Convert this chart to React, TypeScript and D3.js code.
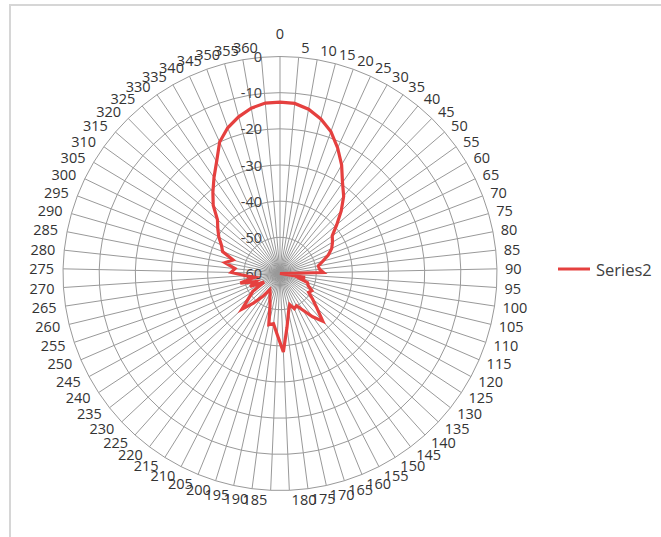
import React from "react";
import * as d3 from "d3";

const categories = [0,5,10,15,20,25,30,35,40,45,50,55,60,65,70,75,80,85,90,95,100,105,110,115,120,125,130,135,140,145,150,155,160,165,170,175,180,185,190,195,200,205,210,215,220,225,230,235,240,245,250,255,260,265,270,275,280,285,290,295,300,305,310,315,320,325,330,335,340,345,350,355,360];

const series2 = [
  -12.6, -12.8, -13.9, -15.8, -18.3, -21.8, -25.5, -29.5, -32.3, -35.8,
  -39.3, -42.2, -43.1, -44.1, -45.7, -47.7, -49.2, -49.0, -48.0, -62,
  -53, -54.5, -52, -51.5, -50, -50.5, -48.5, -46, -42.3, -45,
  -48, -50, -49.5, -51, -49, -45, -38.3, -43, -46, -45.5,
  -50.7, -52.6, -54, -54.7, -52, -49, -45.6, -49, -51, -55,
  -51, -53, -48.7, -53, -50.5, -46.5, -47.5, -44.5, -46.5, -43,
  -42, -40.3, -38.8, -37.2, -33.6, -30.8, -27.8, -24.5, -20.0, -17.2,
  -15.2, -13.6, -12.7
];

const valueTicks = [0, -10, -20, -30, -40, -50, -60];
const seriesName = "Series2";

const W = 661, H = 537;
const cx = 280, cy = 273.5, R = 217;
const FONT = "'Open Sans', 'DejaVu Sans', sans-serif";
const RED = "#e5403f";
const GRID = "#999999";

export default function App() {
  const n = categories.length;
  const angle = d3.scaleLinear().domain([0, n]).range([0, 2 * Math.PI]);
  const r = d3.scaleLinear().domain([-60, 0]).range([0, R]).clamp(true);

  const ringPath = (v: number) => {
    const pts = d3.range(n).map((i) => {
      const a = angle(i);
      return [cx + r(v) * Math.sin(a), cy - r(v) * Math.cos(a)];
    });
    return "M" + pts.map((p) => p.join(",")).join("L") + "Z";
  };

  const line = d3
    .lineRadial<number>()
    .angle((_, i) => angle(i))
    .radius((d) => r(d))
    .curve(d3.curveLinearClosed);

  const ga = 223;

  return (
    <svg width={W} height={H} style={{ position: "absolute", left: 0, top: 0 }} fontFamily={FONT}>
      <rect x={0} y={0} width={W} height={H} fill="#fff" />
      <rect x={10} y={5} width={720} height={620} fill="#fff" stroke="#d6d6d6" strokeWidth={2} />
      {valueTicks.filter((v) => v > -60).map((v) => (
        <path key={"ring" + v} d={ringPath(v)} fill="none" stroke={GRID} strokeWidth={1} />
      ))}
      {categories.map((c, i) => {
        const a = angle(i);
        return (
          <line
            key={"sp" + i}
            x1={cx}
            y1={cy}
            x2={cx + R * Math.sin(a)}
            y2={cy - R * Math.cos(a)}
            stroke={GRID}
            strokeWidth={1}
          />
        );
      })}
      {categories.map((c, i) => {
        const a = angle(i);
        const s = Math.sin(a), co = Math.cos(a);
        let x = cx + ga * s;
        let y = cy - ga * co - 3.5 * co;
        let anchor = "middle";
        if (s > 0.02) { anchor = "start"; x += 2; }
        else if (s < -0.02) { anchor = "end"; x -= 3; }
        if (Math.abs(s) <= 0.02 && co > 0) y = 33;
        return (
          <text
            key={"cl" + i}
            x={x}
            y={y}
            textAnchor={anchor}
            dominantBaseline="central"
            fontSize={14.5}
            fill="#333"
          >
            {c}
          </text>
        );
      })}
      {valueTicks.map((v) => (
        <text
          key={"vl" + v}
          x={262}
          y={cy - r(v)}
          textAnchor="end"
          dominantBaseline="central"
          fontSize={14.5}
          fill="#404040"
        >
          {v}
        </text>
      ))}
      <path
        d={line(series2) || ""}
        transform={`translate(${cx},${cy})`}
        fill="none"
        stroke={RED}
        strokeWidth={3.2}
        strokeLinejoin="miter"
      />
      <line x1={558} x2={590} y1={269} y2={269} stroke={RED} strokeWidth={3} />
      <text x={596} y={269} dominantBaseline="central" fontSize={16.5} fill="#404040">
        {seriesName}
      </text>
    </svg>
  );
}
